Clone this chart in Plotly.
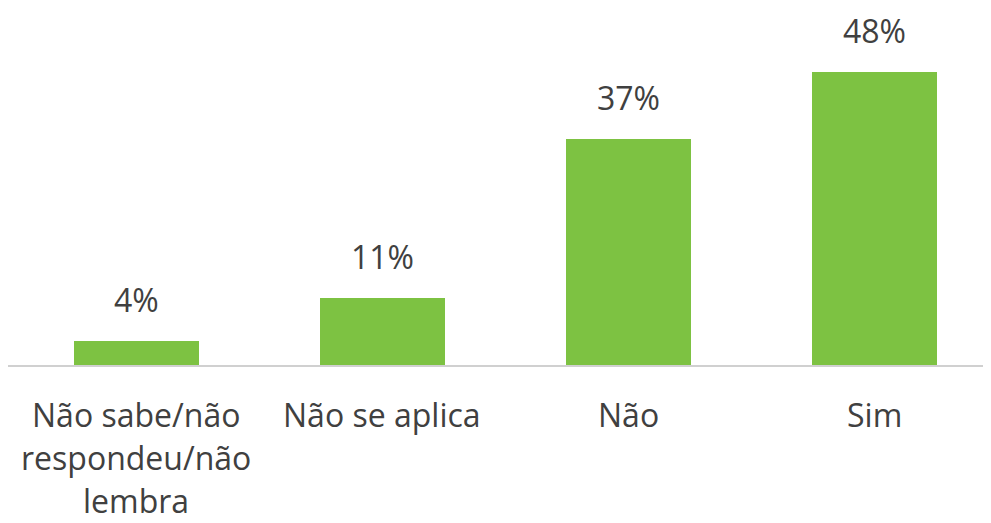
import plotly.graph_objects as go

categories = ["Não sabe/não respondeu/não lembra", "Não se aplica", "Não", "Sim"]
category_lines = [["Não sabe/não", "respondeu/não", "lembra"], ["Não se aplica"], ["Não"], ["Sim"]]
values = [4, 11, 37, 48]
value_labels = ["4%", "11%", "37%", "48%"]

FONT = "Open Sans"
TXT = "#404040"

fig = go.Figure()
fig.add_trace(go.Bar(
    x=categories,
    y=values,
    marker=dict(color="#7DC242", line=dict(width=0)),
    width=0.51,
    hoverinfo="skip",
))

for cat, v, lab in zip(categories, values, value_labels):
    fig.add_annotation(x=cat, y=v, xref="x", yref="y", text=lab, showarrow=False,
                       yanchor="bottom", yshift=18,
                       font=dict(family=FONT, size=32, color=TXT))

for cat, lines in zip(categories, category_lines):
    for j, line in enumerate(lines):
        fig.add_annotation(x=cat, y=0, xref="x", yref="y", text=line, showarrow=False,
                           yanchor="top", yshift=-27 - 43 * j, borderpad=0,
                           font=dict(family=FONT, size=32, color=TXT))

# page body has an 8px margin, so the figure is sized to fill the 991x523 window
fig.update_layout(
    width=983, height=515,
    margin=dict(l=0, r=0, t=20, b=158),
    paper_bgcolor="white", plot_bgcolor="white",
    showlegend=False,
    bargap=0,
    xaxis=dict(
        type="category",
        range=[-0.522, 3.474],
        showticklabels=False,
        showgrid=False, zeroline=False,
        showline=True, linecolor="#D0D0D0", linewidth=2,
        ticks="",
        fixedrange=True,
    ),
    yaxis=dict(range=[0, 55.25], visible=False, fixedrange=True),
)

fig.write_html("out.html")
